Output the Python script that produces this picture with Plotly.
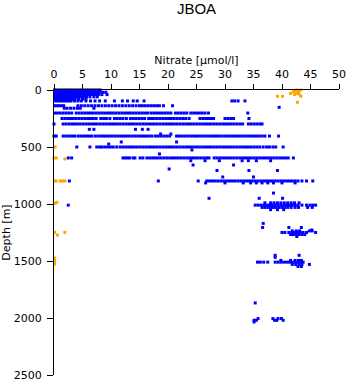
import plotly.graph_objects as go

# ---- blue series: rows of nitrate values at given depths ----
blk_0 = [0.1,0.5,0.9,1.3,1.7,2.1,2.5,2.9,3.3,3.7,4.1,4.5,4.9,5.3,5.7,6.1,6.5,6.9,7.3,7.7,8.1]
blk_20 = [0.1,0.5,0.9,1.3,1.7,2.1,2.5,2.9,3.3,3.7,4.1,4.5,4.9,5.3,5.7,6.1,6.5,6.9,7.3,7.7,8.1,8.6,9.1]
blk_40 = [0.1,0.5,0.9,1.3,1.7,2.1,2.5,2.9,3.3,3.7,4.1,4.5,4.9,5.3,5.7,6.1,6.5,6.9,7.3,7.8,8.4,9.3]
blk_60 = [0.1,0.5,0.9,1.3,1.7,2.1,2.5,2.9,3.3,3.7,4.1,4.5,4.9,5.3,5.7,6.3,7.0,7.6]
blk_80 = [0.1,0.5,0.9,1.3,1.7,2.1,2.5,2.9,3.3,3.7,4.3,5.0,5.6]
row_96 = [0.2,0.6,1.0,1.4,1.8,2.2,2.6,3.0,3.6,4.2,4.8,5.6,6.4,7.2,8.0,9.0,10.6,12.0,12.9,13.9,14.6,15.8,31.2,31.7,32.3,33.5]
row_138 = [0.1,0.5,0.9,1.3,1.7,4.2,4.8,5.4,6.0,6.6,7.2,7.8,8.4,9.0,9.6,10.2,10.8,11.4,12.0,12.6,13.2,13.8,14.4,15.0,15.5,16.0,16.5,17.0,17.5,18.0,18.5,19.2,20.8]
row_152 = [39.5]
row_160 = [1.8,2.3,2.9,3.5,4.1,4.6,7.0]
row_202 = [0.1,0.6,1.1,1.6,2.1,2.6,3.1,3.9,4.4,4.9,5.4,5.9,6.4,6.9,7.4,7.9,8.4,8.9,9.4,9.9,10.4,10.9,11.4,11.9,12.4,12.9,13.4,13.9,14.4,14.9,15.4,15.9,16.4,17.0,17.5,18.0,18.5,19.0,19.5,20.0,20.5,21.3,21.8,22.3,22.8,23.3,24.0,24.5,25.0,25.5,26.0,26.5,27.1,34.0]
row_250 = [1.4,1.9,2.4,2.9,3.4,3.9,4.4,4.9,5.4,5.9,6.4,6.9,7.4,8.2,8.7,9.2,9.8,10.6,11.1,11.6,12.1,12.7,13.4,13.9,14.4,14.9,15.4,15.9,16.6,17.1,17.6,18.1,18.6,19.1,19.6,20.1,20.6,21.1,21.6,22.1,22.6,23.1,23.7,25.6,26.1,26.6,27.1,27.6,28.0,30.0,30.5,31.0,31.5,34.2]
row_298 = [0.0,1.6,2.1,2.6,3.1,3.6,4.1,4.6,5.1,5.6,6.1,6.6,7.1,7.6,8.1,8.6,9.1,9.6,10.1,10.6,11.1,11.6,12.1,12.6,13.1,13.6,14.1,14.6,15.1,15.6,16.1,16.6,17.1,17.6,18.1,18.6,19.1,19.6,20.1,20.6,21.1,21.6,22.1,22.6,23.1,23.6,24.1,24.6,25.1,25.6,26.1,26.6,27.1,27.6,28.1,28.6,29.1,29.6,30.1,30.6,31.1,31.6,32.1,32.6,33.1,34.1,34.6,35.1,35.6,36.1,36.5]
row_345 = [6.2,7.0,14.3,15.5,16.5]
row_386 = [18.7,20.5]
row_404 = [0.0,0.4,1.6,2.1,2.6,3.1,3.6,4.2,4.7,5.2,5.7,6.2,6.6,7.2,7.7,8.2,8.7,9.2,9.7,10.2,10.7,11.2,11.7,12.2,12.7,13.2,13.7,14.2,14.7,15.2,15.7,16.2,16.7,17.2,17.8,18.3,18.8,19.3,19.8,20.3,21.5,22.0,22.5,23.0,23.5,24.0,24.5,25.0,25.5,26.0,26.5,27.0,27.5,28.0,28.5,29.0,29.5,30.0,30.5,31.0,31.5,32.0,32.5,33.0,33.5,34.0,34.5,35.0,35.5,36.0,36.5,37.0,37.8,39.4]
row_456 = [11.8,21.5]
row_474 = [9.6]
row_500 = [4.0,6.3,7.5,8.0,8.4,8.9,9.4,9.9,10.4,11.0,11.6,12.1,12.6,13.1,13.6,14.1,14.6,15.1,15.6,16.1,16.6,17.1,17.6,18.1,18.6,19.1,19.6,20.1,20.6,21.1,21.6,22.1,22.6,23.1,23.6,24.1,24.6,25.1,25.6,26.1,26.6,27.1,27.6,28.1,28.6,29.1,29.6,30.1,30.6,31.1,31.6,32.1,32.6,33.1,33.6,34.1,34.6,35.1,35.6,36.1,36.7,37.3,37.8,38.4,38.9,40.2]
row_526 = [24.2]
row_561 = [18.5]
row_596 = [2.5,3.1,12.1,12.5,12.9,13.3,13.9,14.2,15.1,15.6,16.3,16.8,17.3,17.8,18.3,18.8,19.3,19.8,20.3,20.8,21.3,21.8,22.3,22.8,23.3,23.8,24.3,24.8,25.3,25.8,26.3,26.8,27.2,28.1,28.6,29.1,29.6,30.1,30.6,31.1,31.6,32.1,32.6,33.1,33.6,34.1,34.6,35.1,35.6,36.1,36.6,37.1,37.6,38.1,38.6,39.1,39.6,40.1,40.6,41.1,42.0]
row_620 = [24.0,26.5,29.0,33.0,34.1,35.5,38.0]
row_658 = [24.4,31.5]
row_693 = [20.2]
row_706 = [28.6,34.2,39.2]
row_763 = [29.6,35.0]
row_798 = [2.7,18.3,25.3,26.8,27.3,27.8,28.3,28.8,29.3,29.8,30.3,30.8,31.3,31.8,32.3,32.8,33.3,33.8,34.3,34.8,35.3,35.8,36.3,36.8,37.3,37.8,38.3,38.8,39.3,39.8,40.3,40.8,41.3,41.8,42.3,42.8,43.5,44.3,45.4]
row_815 = [26.6,30.0,33.2,34.5,35.5,36.5,37.5,38.5,40.0,42.3]
row_904 = [38.5]
row_950 = [27.2,36.0,40.1]
row_990 = [37.0,38.0,38.6,39.2,39.8,40.4,41.0,41.6,42.2,43.0]
row_1010 = [2.5,35.3,35.8,36.3,36.8,37.3,37.8,38.3,38.8,39.3,39.8,40.3,40.8,41.3,41.8,42.3,42.8,43.5,44.3,44.9,45.4,45.9]
row_1030 = [36.5,37.0,37.5,38.0,38.5,39.0,39.5,40.0,40.5,41.0,41.6,42.3,42.9,44.5,45.3]
row_1050 = [38.0,39.2,40.3]
row_1170 = [36.7]
row_1206 = [36.6,41.2,43.4]
row_1228 = [45.2]
row_1236 = [41.8,42.5,43.1,44.8,45.3]
row_1250 = [40.0,40.5,41.2,41.7,42.2,42.7,43.2,43.7,44.3,45.9]
row_1268 = [41.5,42.0,42.5,43.0,43.5,44.0]
row_1285 = [42.6]
row_1450 = [38.8,43.0]
row_1468 = [38.8]
row_1495 = [39.8,41.5,42.3,42.9,43.4]
row_1510 = [35.7,36.2,36.8,37.5,38.8,39.3,39.8,40.3,40.8,41.3,41.8,42.3,42.8,43.3,43.7]
row_1530 = [41.8,42.4,43.0,43.5,44.8]
row_1548 = [42.8,43.4]
row_1868 = [35.3]
row_2005 = [35.8,38.4,39.3,39.9]
row_2020 = [35.1,35.5,38.7,39.1,40.2]
row_2035 = [35.1]

blue_row_depths = [0, 20, 40, 60, 80, 96, 138, 152, 160, 202, 250, 298, 345, 386, 404, 456, 474, 500,
                   526, 561, 596, 620, 658, 693, 706, 763, 798, 815, 904, 950, 990, 1010, 1030, 1050,
                   1170, 1206, 1228, 1236, 1250, 1268, 1285, 1450, 1468, 1495, 1510, 1530, 1548,
                   1868, 2005, 2020, 2035]
blue_row_values = [blk_0, blk_20, blk_40, blk_60, blk_80, row_96, row_138, row_152, row_160, row_202,
                   row_250, row_298, row_345, row_386, row_404, row_456, row_474, row_500, row_526,
                   row_561, row_596, row_620, row_658, row_693, row_706, row_763, row_798, row_815,
                   row_904, row_950, row_990, row_1010, row_1030, row_1050, row_1170, row_1206,
                   row_1228, row_1236, row_1250, row_1268, row_1285, row_1450, row_1468, row_1495,
                   row_1510, row_1530, row_1548, row_1868, row_2005, row_2020, row_2035]

# ---- orange series ----
orange_nitrate = [41.5, 42.0, 42.3, 42.6, 42.9, 43.3, 42.6, 43.0, 42.2, 39.2, 40.1, 43.3, 42.7,
                  0.2, 0.0, 0.4, 1.9, 0.1, 0.4, 1.1, 1.5, 1.9, 0.2, 0.5, 0.1, 1.9, 0.6,
                  0.1, 0.1, 0.1, 0.1]
orange_depth = [30, 15, 5, 0, 15, 0, 30, 35, 40, 55, 55, 55, 108,
                500, 596, 596, 605, 798, 798, 798, 798, 798, 994, 985, 1249, 1249, 1272,
                1474, 1495, 1510, 1527]

x_ticks = [0, 5, 10, 15, 20, 25, 30, 35, 40, 45, 50]
y_ticks = [0, 500, 1000, 1500, 2000, 2500]

blue_x, blue_y = [], []
for d, vals in zip(blue_row_depths, blue_row_values):
    blue_x.extend(vals)
    blue_y.extend([d] * len(vals))

fig = go.Figure()
fig.add_trace(go.Scatter(x=blue_x, y=blue_y, mode="markers", cliponaxis=False,
                         marker=dict(symbol="square", size=3, color="#0000ff", line=dict(width=0))))
fig.add_trace(go.Scatter(x=orange_nitrate, y=orange_depth, mode="markers", cliponaxis=False,
                         marker=dict(symbol="square", size=3, color="#ffa500", line=dict(width=0))))

fig.update_layout(
    width=348, height=384,
    margin=dict(l=54, r=9, t=90, b=9, autoexpand=False),
    paper_bgcolor="white", plot_bgcolor="white",
    showlegend=False,
    font=dict(family="DejaVu Sans", size=11, color="black"),
    title=dict(text="JBOA", x=0.5, xref="paper", y=1 - 8.5 / 384, yref="container",
               yanchor="middle", xanchor="center",
               font=dict(family="Liberation Sans", size=15, color="black")),
    xaxis=dict(side="top", range=[0, 50], tickvals=x_ticks, ticktext=[str(v) for v in x_ticks],
               ticks="outside", ticklen=5, tickcolor="black", showline=True, linecolor="black",
               linewidth=1, showgrid=False, zeroline=False, automargin=False,
               tickfont=dict(size=11), ticklabelstandoff=2,
               title=dict(text="Nitrate [µmol/l]", standoff=0, font=dict(size=11))),
    yaxis=dict(range=[2500, 0], tickvals=y_ticks, ticktext=[str(v) for v in y_ticks],
               ticks="outside", ticklen=6, tickcolor="black", showline=True, linecolor="black",
               linewidth=1, showgrid=False, zeroline=False, automargin=False,
               tickfont=dict(size=11), ticklabelstandoff=3,
               title=dict(text="Depth [m]", standoff=4, font=dict(size=11))),
)

fig.write_html("out.html")
